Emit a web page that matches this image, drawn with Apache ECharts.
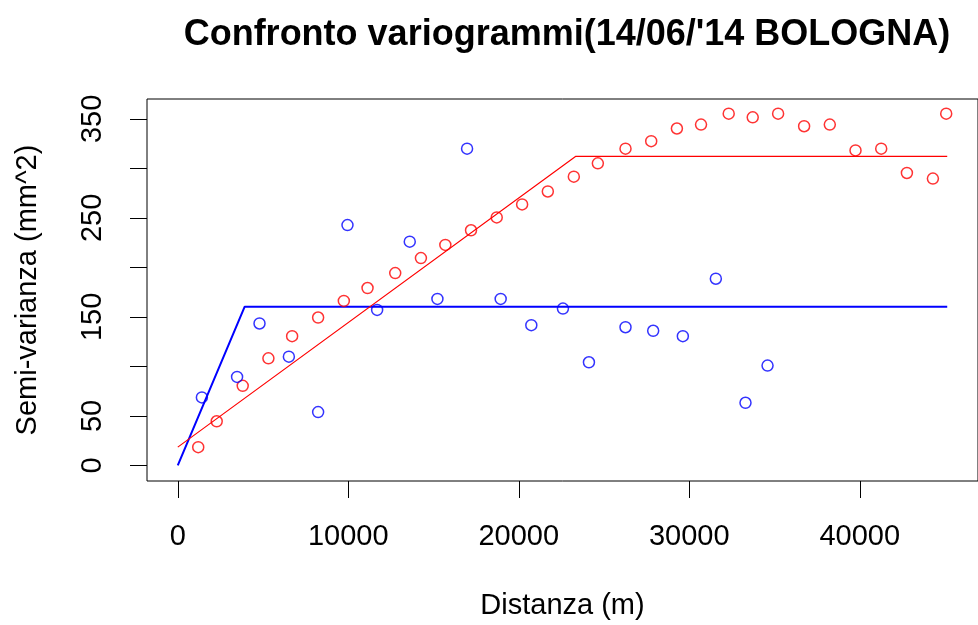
<!DOCTYPE html>
<html>
<head>
<meta charset="utf-8">
<script src="https://cdn.jsdelivr.net/npm/echarts@6/dist/echarts.min.js"></script>
<style>html,body{margin:0;padding:0;background:#fff;}#c{width:978px;height:625px;}</style>
</head>
<body>
<div id="c"></div>
<script>
var titleText = "Confronto variogrammi(14/06/'14 BOLOGNA)";
var xName = "Distanza (m)";
var yName = "Semi-varianza (mm^2)";
var xTicks = [0, 10000, 20000, 30000, 40000];
var yTicks = [0, 50, 100, 150, 200, 250, 300, 350];
var yTickLabels = [0, 50, 150, 250, 350];

var blueX = [1414, 3478, 4794, 6516, 8232, 9954, 11693, 13606, 15229, 16968, 18939, 20736, 22591, 24116, 26261, 27884, 29623, 31559, 33298, 34591];
var blueY = [68.7, 89.4, 143.4, 109.9, 53.9, 242.8, 157.1, 226.0, 168.2, 319.9, 168.2, 141.7, 158.4, 104.2, 139.6, 136.0, 130.6, 188.6, 63.3, 100.9];

var redX = [1200, 2284, 3809, 5316, 6707, 8232, 9739, 11130, 12754, 14261, 15693, 17200, 18707, 20197, 21704, 23229, 24638, 26261, 27768, 29275, 30690, 32313, 33722, 35211, 36736, 38243, 39751, 41258, 42765, 44290, 45070];
var redY = [18.5, 44.6, 80.4, 108.2, 130.6, 149.4, 166.2, 179.2, 194.3, 209.4, 222.7, 237.5, 250.5, 263.6, 276.7, 291.7, 305.1, 319.9, 327.5, 340.3, 344.3, 355.3, 351.6, 355.3, 342.6, 344.3, 318.2, 319.9, 295.4, 289.7, 355.3];

var blueModelX = [0, 3925, 45130];
var blueModelY = [0, 160.4, 160.4];
var redModelX = [0, 23328, 45130];
var redModelY = [18.5, 312.1, 312.1];

function zip(a, b) { return a.map(function (v, i) { return [v, b[i]]; }); }
function plain(v) { return String(v); }

var FONT = "Liberation Sans, Arial, sans-serif";
var chart = echarts.init(document.getElementById('c'), null, {renderer: 'canvas'});
chart.setOption({
  animation: false,
  backgroundColor: '#ffffff',
  title: {
    text: titleText,
    left: 562, top: 12, textAlign: 'center',
    textStyle: {fontFamily: FONT, fontWeight: 'bold', fontSize: 36, color: '#000'}
  },
  grid: {left: 147, top: 99, width: 841, height: 384, show: true, borderColor: '#000', borderWidth: 1, backgroundColor: 'transparent'},
  xAxis: {
    type: 'value', min: -1805, max: 46935,
    name: xName, nameLocation: 'middle', nameGap: 110,
    nameTextStyle: {fontFamily: FONT, fontSize: 29, color: '#000'},
    axisLine: {show: false, onZero: false},
    splitLine: {show: false},
    axisTick: {show: true, customValues: xTicks, length: 17, lineStyle: {color: '#000', width: 1}},
    axisLabel: {customValues: xTicks, formatter: plain, fontFamily: FONT, fontSize: 29, color: '#000', margin: 41}
  },
  yAxis: {
    type: 'value', min: -15.7, max: 370.1,
    name: yName, nameLocation: 'middle', nameGap: 105, nameRotate: 90,
    nameTextStyle: {fontFamily: FONT, fontSize: 29, color: '#000'},
    axisLine: {show: false, onZero: false},
    splitLine: {show: false},
    axisTick: {show: true, customValues: yTicks, length: 17, lineStyle: {color: '#000', width: 1}},
    axisLabel: {customValues: yTickLabels, formatter: plain, rotate: 90, fontFamily: FONT, fontSize: 29, color: '#000', margin: 40}
  },
  series: [
    {type: 'line', data: zip(blueModelX, blueModelY), symbol: 'none', lineStyle: {color: '#0000ff', width: 2}, z: 2},
    {type: 'line', data: zip(redModelX, redModelY), symbol: 'none', lineStyle: {color: '#ff0000', width: 1.2}, z: 2},
    {type: 'scatter', data: zip(redX, redY), symbol: 'circle', symbolSize: 11, itemStyle: {color: 'transparent', borderColor: '#ff0000', borderWidth: 1.5}, z: 3},
    {type: 'scatter', data: zip(blueX, blueY), symbol: 'circle', symbolSize: 11, itemStyle: {color: 'transparent', borderColor: '#0000ff', borderWidth: 1.5}, z: 3}
  ]
});
</script>
</body>
</html>
